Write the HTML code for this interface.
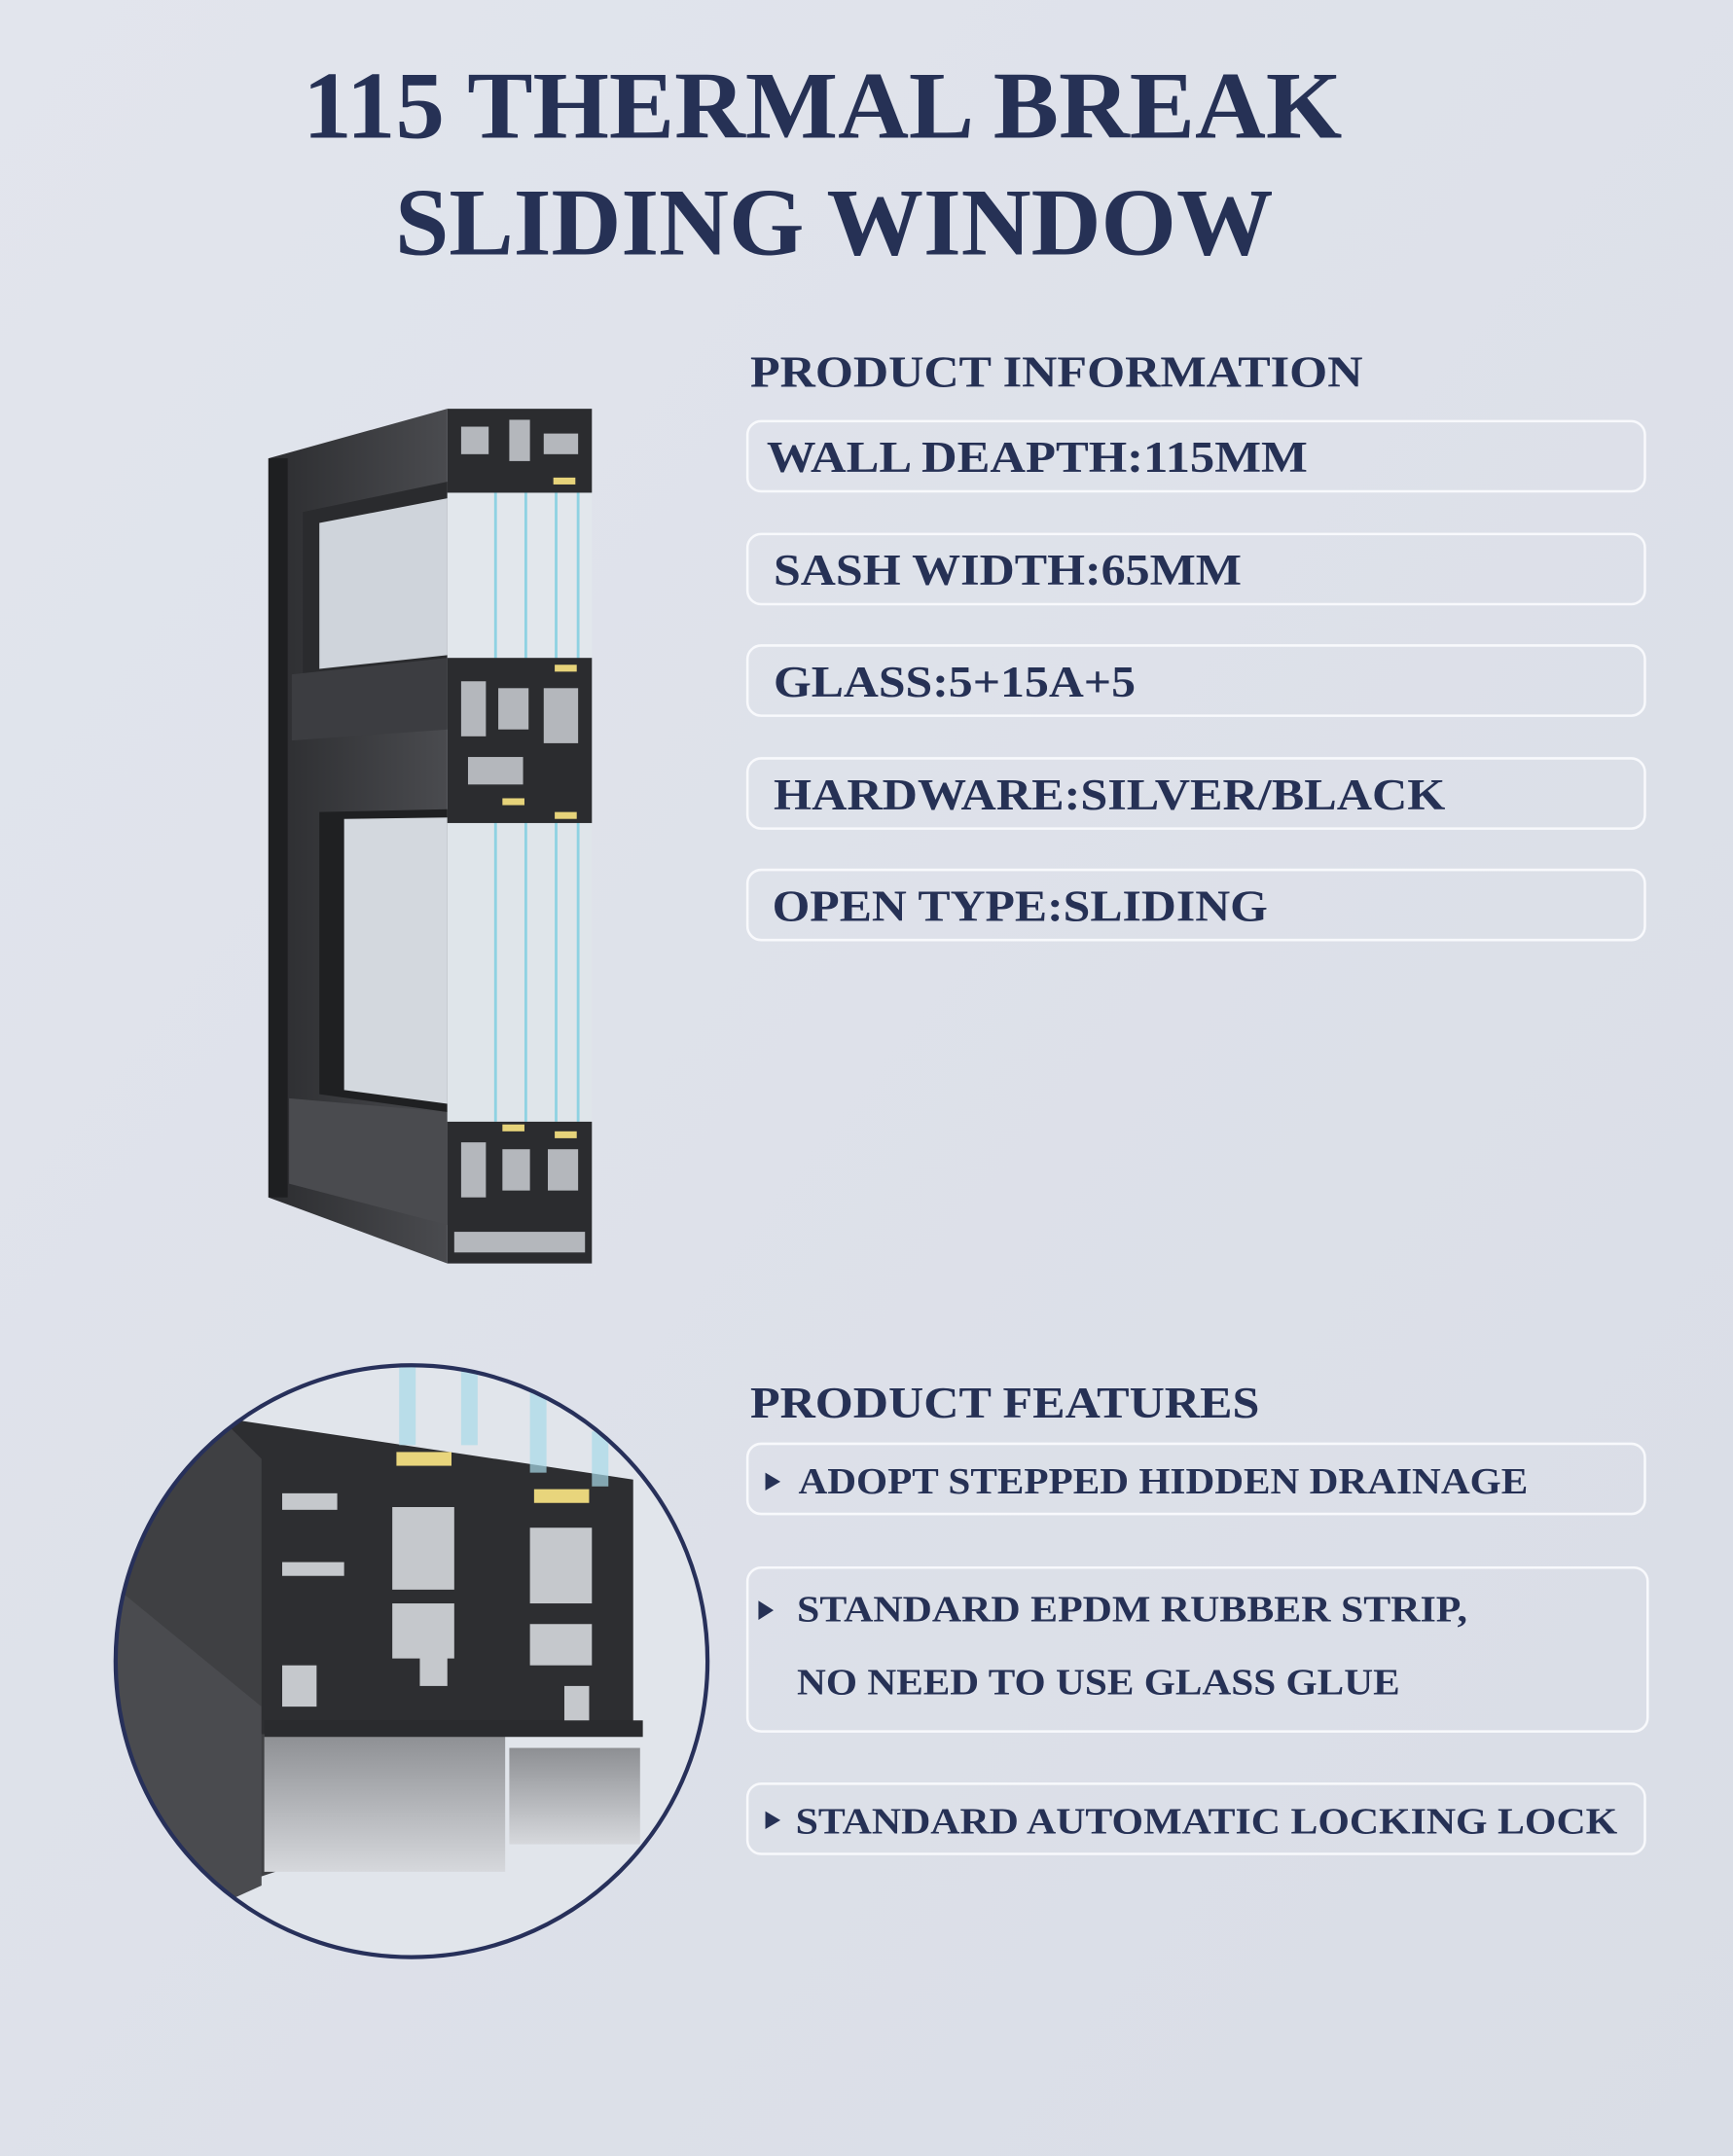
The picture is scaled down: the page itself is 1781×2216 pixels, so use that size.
<!DOCTYPE html>
<html><head><meta charset="utf-8"><style>
html,body{margin:0;padding:0;background:#dfe2ea;}
svg{display:block}
text{font-family:"Liberation Serif",serif;font-weight:bold;fill:#263155}
</style></head><body>
<svg width="1781" height="2216" viewBox="0 0 1259 1566.5" xmlns="http://www.w3.org/2000/svg">
<defs>
<linearGradient id="bg" x1="0" y1="0" x2="1" y2="1"><stop offset="0" stop-color="#e2e5ed"/><stop offset="1" stop-color="#d9dde6"/></linearGradient>
<linearGradient id="face" x1="0" y1="0" x2="1" y2="0"><stop offset="0" stop-color="#2c2d30"/><stop offset="1" stop-color="#4a4b4f"/></linearGradient>
<linearGradient id="sill" x1="0" y1="0" x2="0" y2="1"><stop offset="0" stop-color="#8d8f93"/><stop offset="1" stop-color="#d6d8dc"/></linearGradient>
<clipPath id="cc"><circle cx="299" cy="1207" r="215"/></clipPath>
</defs>
<rect width="1259" height="1566.5" fill="url(#bg)"/>

<text x="220" y="100" font-size="70" textLength="755" lengthAdjust="spacingAndGlyphs">115 THERMAL BREAK</text>
<text x="287" y="185" font-size="70" textLength="638" lengthAdjust="spacingAndGlyphs">SLIDING WINDOW</text>

<text x="545" y="281" font-size="32" textLength="445" lengthAdjust="spacingAndGlyphs">PRODUCT INFORMATION</text>
<g fill="none" stroke="#f8f9fc" stroke-width="1.8">
<rect x="543" y="306" width="652" height="51" rx="10"/>
<rect x="543" y="388" width="652" height="51" rx="10"/>
<rect x="543" y="469" width="652" height="51" rx="10"/>
<rect x="543" y="551" width="652" height="51" rx="10"/>
<rect x="543" y="632" width="652" height="51" rx="10"/>
<rect x="543" y="1049" width="652" height="51" rx="10"/>
<rect x="543" y="1139" width="654" height="119" rx="10"/>
<rect x="543" y="1296" width="652" height="51" rx="10"/>
</g>
<text x="557" y="343" font-size="32" textLength="393" lengthAdjust="spacingAndGlyphs">WALL DEAPTH:115MM</text>
<text x="562" y="425" font-size="32" textLength="340" lengthAdjust="spacingAndGlyphs">SASH WIDTH:65MM</text>
<text x="562" y="506" font-size="32" textLength="263" lengthAdjust="spacingAndGlyphs">GLASS:5+15A+5</text>
<text x="562" y="588" font-size="32" textLength="488" lengthAdjust="spacingAndGlyphs">HARDWARE:SILVER/BLACK</text>
<text x="561" y="669" font-size="32" textLength="360" lengthAdjust="spacingAndGlyphs">OPEN TYPE:SLIDING</text>

<text x="545" y="1030" font-size="32" textLength="370" lengthAdjust="spacingAndGlyphs">PRODUCT FEATURES</text>
<g fill="#263155">
<polygon points="556,1070 556,1083 567,1076.5"/>
<polygon points="551,1163 551,1177 562,1170"/>
<polygon points="556,1316 556,1329 567,1322.5"/>
</g>
<text x="580" y="1085" font-size="27" textLength="530" lengthAdjust="spacingAndGlyphs">ADOPT STEPPED HIDDEN DRAINAGE</text>
<text x="579" y="1178" font-size="27" textLength="487" lengthAdjust="spacingAndGlyphs">STANDARD EPDM RUBBER STRIP,</text>
<text x="579" y="1231" font-size="27" textLength="438" lengthAdjust="spacingAndGlyphs">NO NEED TO USE GLASS GLUE</text>
<text x="578" y="1332" font-size="27" textLength="597" lengthAdjust="spacingAndGlyphs">STANDARD AUTOMATIC LOCKING LOCK</text>

<!-- window illustration -->
<polygon points="195,333 325,297 325,918 195,870" fill="url(#face)"/>
<rect x="195" y="333" width="14" height="537" fill="#1e1f21"/>
<polygon points="220,372 325,350 325,478 220,490" fill="#2a2b2e"/>
<polygon points="232,380 325,362 325,476 232,486" fill="#cfd4db"/>
<polygon points="232,590 325,588 325,808 232,795" fill="#1f2022"/>
<polygon points="250,595 325,594 325,802 250,792" fill="#d3d8de"/>
<polygon points="212,490 325,478 325,530 212,538" fill="#3c3d41"/>
<polygon points="210,798 325,808 325,890 210,860" fill="#4a4b4f"/>
<rect x="325" y="358" width="105" height="120" fill="#e2e7ec"/>
<rect x="325" y="598" width="105" height="217" fill="#dfe5ea"/>
<g stroke="#8fd2e2" stroke-width="2"><line x1="360" y1="358" x2="360" y2="815"/><line x1="382" y1="358" x2="382" y2="815"/><line x1="404" y1="358" x2="404" y2="815"/><line x1="420" y1="358" x2="420" y2="815"/></g>
<rect x="325" y="297" width="105" height="61" fill="#2b2c2f"/>
<rect x="325" y="478" width="105" height="120" fill="#2b2c2f"/>
<rect x="325" y="815" width="105" height="103" fill="#2b2c2f"/>
<g fill="#b4b7bc">
<rect x="335" y="310" width="20" height="20"/><rect x="370" y="305" width="15" height="30"/><rect x="395" y="315" width="25" height="15"/>
<rect x="335" y="495" width="18" height="40"/><rect x="362" y="500" width="22" height="30"/><rect x="395" y="500" width="25" height="40"/><rect x="340" y="550" width="40" height="20"/>
<rect x="335" y="830" width="18" height="40"/><rect x="365" y="835" width="20" height="30"/><rect x="398" y="835" width="22" height="30"/><rect x="330" y="895" width="95" height="15"/>
</g>
<g fill="#e6d37a"><rect x="402" y="347" width="16" height="5"/><rect x="403" y="483" width="16" height="5"/><rect x="365" y="580" width="16" height="5"/><rect x="403" y="590" width="16" height="5"/><rect x="365" y="817" width="16" height="5"/><rect x="403" y="822" width="16" height="5"/></g>

<!-- circle detail -->
<g clip-path="url(#cc)">
<rect x="80" y="990" width="440" height="440" fill="#e1e5eb"/>
<polygon points="80,1030 200,1040 200,1360 80,1400" fill="#3f4043"/>
<polygon points="80,1150 190,1240 190,1370 80,1420" fill="#4a4b4f"/>
<polygon points="160,1030 460,1075 460,1260 190,1260 190,1060" fill="#2d2e31"/>
<rect x="192" y="1260" width="175" height="100" fill="url(#sill)"/>
<rect x="370" y="1270" width="95" height="70" fill="url(#sill)"/>
<rect x="192" y="1250" width="275" height="12" fill="#2a2b2e"/>
<g fill="#c5c8cc">
<rect x="205" y="1085" width="40" height="12"/><rect x="205" y="1135" width="45" height="10"/><rect x="205" y="1210" width="25" height="30"/>
<rect x="285" y="1095" width="45" height="60"/><rect x="285" y="1165" width="45" height="40"/><rect x="305" y="1200" width="20" height="25"/>
<rect x="385" y="1110" width="45" height="55"/><rect x="385" y="1180" width="45" height="30"/><rect x="410" y="1225" width="18" height="25"/>
</g>
<g fill="#e8d57c"><rect x="288" y="1055" width="40" height="10"/><rect x="388" y="1082" width="40" height="10"/></g>
<g fill="#a9dbe8" opacity="0.7"><rect x="290" y="990" width="12" height="60"/><rect x="335" y="990" width="12" height="60"/><rect x="385" y="1010" width="12" height="60"/><rect x="430" y="1040" width="12" height="40"/></g>
</g>
<circle cx="299" cy="1207" r="215" fill="none" stroke="#27305a" stroke-width="3"/>
</svg>
</body></html>
